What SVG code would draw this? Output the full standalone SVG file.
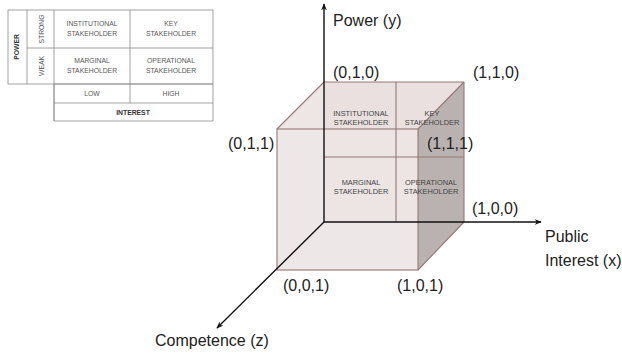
<svg xmlns="http://www.w3.org/2000/svg" width="622" height="356" viewBox="0 0 622 356">
<defs>
<style>
.tl{fill:none;stroke:#8a8a8a;stroke-width:0.8}
.tt{font-family:"Liberation Sans",Arial,sans-serif;font-size:6.8px;fill:#555;text-anchor:middle}
.tb{font-weight:bold;fill:#333}
.edge{fill:none;stroke:#967874;stroke-width:1.1}
.ax{stroke:#111;stroke-width:1.4;fill:none}
.lab{font-family:"Liberation Sans",Arial,sans-serif;font-size:16px;fill:#222}
.cl{font-family:"Liberation Sans",Arial,sans-serif;font-size:7.4px;fill:#444;text-anchor:middle}
</style>
<marker id="ah" viewBox="0 0 10 10" refX="9" refY="5" markerWidth="7" markerHeight="7" orient="auto" markerUnits="userSpaceOnUse">
<path d="M0,1 L10,5 L0,9 L3,5 Z" fill="#111"/>
</marker>
</defs>
<rect width="622" height="356" fill="#fff"/>

<g id="table">
<rect class="tl" x="8" y="10" width="205" height="74"/>
<line class="tl" x1="27" y1="10" x2="27" y2="84"/>
<line class="tl" x1="54" y1="10" x2="54" y2="121"/>
<line class="tl" x1="130" y1="10" x2="130" y2="103"/>
<line class="tl" x1="27" y1="48" x2="213" y2="48"/>
<line class="tl" x1="54" y1="84" x2="213" y2="84"/>
<polyline class="tl" points="54,84 54,121 213,121 213,84"/>
<line class="tl" x1="54" y1="103" x2="213" y2="103"/>
<text class="tt tb" transform="translate(18.5,47) rotate(-90)">POWER</text>
<text class="tt" transform="translate(43.5,29) rotate(-90)">STRONG</text>
<text class="tt" transform="translate(43.5,66) rotate(-90)">WEAK</text>
<text class="tt" x="92" y="26">INSTITUTIONAL</text>
<text class="tt" x="92" y="36">STAKEHOLDER</text>
<text class="tt" x="171" y="26">KEY</text>
<text class="tt" x="171" y="36">STAKEHOLDER</text>
<text class="tt" x="92" y="63">MARGINAL</text>
<text class="tt" x="92" y="73">STAKEHOLDER</text>
<text class="tt" x="171" y="63">OPERATIONAL</text>
<text class="tt" x="171" y="73">STAKEHOLDER</text>
<text class="tt" x="92" y="96">LOW</text>
<text class="tt" x="171" y="96">HIGH</text>
<text class="tt tb" x="133" y="114.5">INTEREST</text>
</g>

<g id="cube">
<polygon points="324,82 464,82 464,222 418,270 277,270 277,129" fill="#eee6e5"/>
<polygon points="324,82 464,82 464,222 324,222" fill="#e9e0df"/>
<polygon points="277,129 418,129 418,270 277,270" fill="#efe8e7" fill-opacity="0.6"/>
<polygon points="464,82 418,129 418,270 464,222" fill="#b9b2b1"/>
<line class="edge" x1="324" y1="82" x2="464" y2="82"/>
<line class="edge" x1="464" y1="82" x2="464" y2="222"/>
<line class="edge" x1="396" y1="82" x2="396" y2="222"/>
<line class="edge" x1="324" y1="157" x2="464" y2="157"/>
<rect class="edge" x="277" y="129" width="141" height="141"/>
<line class="edge" x1="277" y1="129" x2="324" y2="82"/>
<line class="edge" x1="418" y1="129" x2="464" y2="82"/>
<line class="edge" x1="418" y1="270" x2="464" y2="222"/>
<text class="cl" x="361" y="116">INSTITUTIONAL</text>
<text class="cl" x="361" y="125">STAKEHOLDER</text>
<text class="cl" x="432" y="116">KEY</text>
<text class="cl" x="432" y="125">STAKEHOLDER</text>
<text class="cl" x="361" y="185">MARGINAL</text>
<text class="cl" x="361" y="194">STAKEHOLDER</text>
<text class="cl" x="431" y="185">OPERATIONAL</text>
<text class="cl" x="431" y="194">STAKEHOLDER</text>
</g>

<g id="connectors">
<line class="ax" x1="324" y1="222" x2="324" y2="4" marker-end="url(#ah)"/>
<line class="ax" x1="324" y1="222" x2="541" y2="222" marker-end="url(#ah)"/>
<line class="ax" x1="324" y1="222" x2="217" y2="328" marker-end="url(#ah)"/>
</g>

<g id="labels">
<text class="lab" x="333" y="26">Power (y)</text>
<text class="lab" x="333" y="78">(0,1,0)</text>
<text class="lab" x="473" y="78">(1,1,0)</text>
<text class="lab" x="228" y="149">(0,1,1)</text>
<text class="lab" x="427" y="149">(1,1,1)</text>
<text class="lab" x="472" y="214">(1,0,0)</text>
<text class="lab" x="545" y="242">Public</text>
<text class="lab" x="545" y="266">Interest (x)</text>
<text class="lab" x="283" y="291">(0,0,1)</text>
<text class="lab" x="397" y="291">(1,0,1)</text>
<text class="lab" x="155" y="346">Competence (z)</text>
</g>
</svg>
